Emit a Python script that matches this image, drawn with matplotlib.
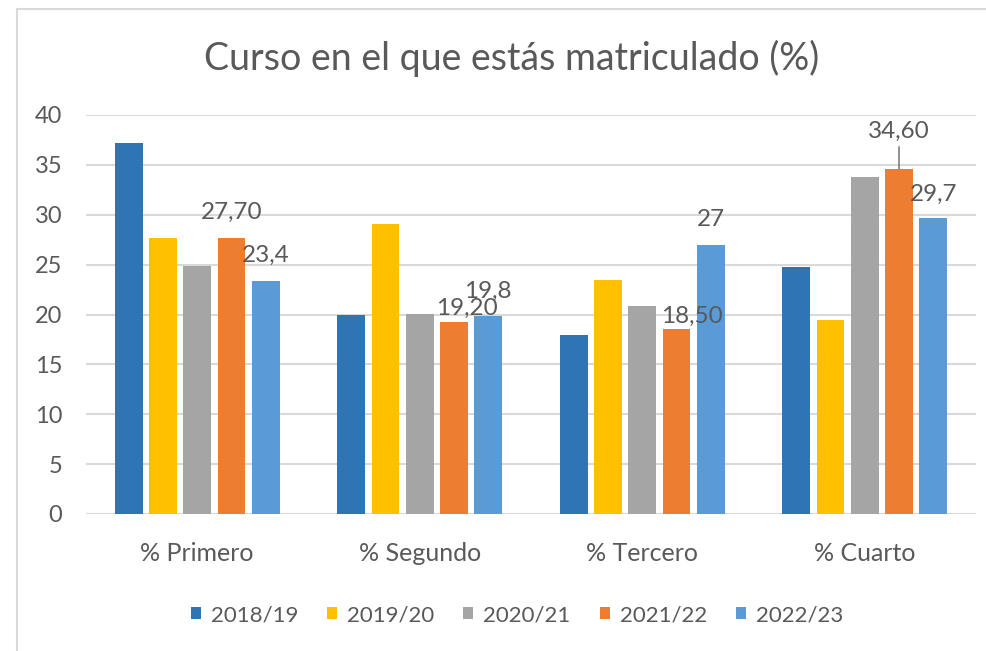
import matplotlib
matplotlib.use("Agg")
import matplotlib.pyplot as plt
from matplotlib.lines import Line2D
from matplotlib.patches import Patch
import numpy as np

plt.rcParams['font.family'] = ['Lato', 'DejaVu Sans']

title = "Curso en el que estás matriculado (%)"
categories = ["% Primero", "% Segundo", "% Tercero", "% Cuarto"]
series_names = ["2018/19", "2019/20", "2020/21", "2021/22", "2022/23"]
s2018 = [37.2, 19.9, 17.9, 24.8]
s2019 = [27.7, 29.1, 23.5, 19.4]
s2020 = [24.9, 20.1, 20.9, 33.8]
s2021 = [27.7, 19.2, 18.5, 34.6]
s2022 = [23.4, 19.8, 27.0, 29.7]
series = [s2018, s2019, s2020, s2021, s2022]
colors = ["#2E75B6", "#FFC000", "#A5A5A5", "#ED7D31", "#5B9BD5"]
yticks = [0, 5, 10, 15, 20, 25, 30, 35, 40]

labels_2021 = ["27,70", "19,20", "18,50", "34,60"]
labels_2022 = ["23,4", "19,8", "27", "29,7"]

TXT = "#595959"
GRID = "#D9D9D9"

fig = plt.figure(figsize=(9.87, 6.51), dpi=100)
ax = fig.add_axes([86/987, 1-514/651, 890/987, 399/651])

x = np.arange(len(categories))
pitch = 0.154
width = 0.124
for i, (vals, c) in enumerate(zip(series, colors)):
    ax.bar(x + (i - 2) * pitch, vals, width=width, color=c, zorder=3)

ax.set_xlim(-0.5, len(categories) - 0.5)
ax.set_ylim(0, 40)
ax.set_yticks(yticks)
ax.set_xticks(x)
ax.set_xticklabels(categories)
ax.yaxis.grid(True, color=GRID, linewidth=1.5, zorder=0)
ax.set_axisbelow(True)
for s in ax.spines.values():
    s.set_visible(False)
ax.tick_params(axis='both', length=0, labelcolor=TXT)
ax.tick_params(axis='y', pad=17, labelsize=17)
ax.tick_params(axis='x', pad=20, labelsize=18)

offs_2021 = [(0, 19), (13, 7.5), (15, 6.5), (0, 31.5)]
offs_2022 = [(0, 18.5), (0, 18.5), (0, 18.5), (0, 17)]
LFS = 17.5
for k in range(len(categories)):
    xi = x[k] + 1 * pitch
    dx, dy = offs_2021[k]
    kw = dict(textcoords='offset pixels', ha='center', va='baseline',
              fontsize=LFS, color=TXT, zorder=5)
    if k == 3:
        kw['arrowprops'] = dict(arrowstyle='-', color='#7F7F7F', lw=1.2,
                                shrinkA=2, shrinkB=0)
    ax.annotate(labels_2021[k], xy=(xi, s2021[k]), xytext=(dx, dy), **kw)
    xj = x[k] + 2 * pitch
    dx, dy = offs_2022[k]
    ax.annotate(labels_2022[k], xy=(xj, s2022[k]), xytext=(dx, dy),
                textcoords='offset pixels', ha='center', va='baseline',
                fontsize=LFS, color=TXT, zorder=5)

fig.text(512/987, 1-70/651, title, ha='center', va='baseline', fontsize=27, color=TXT)

handles = [Patch(facecolor=c, edgecolor='none') for c in colors]
fig.legend(handles, series_names, loc='center', bbox_to_anchor=(517/987, 1-615/651),
           ncol=5, frameon=False, fontsize=16, labelcolor=TXT,
           handlelength=0.45, handleheight=0.45, handletextpad=0.45,
           columnspacing=1.3)

fig.add_artist(Line2D([17/987, 17/987], [0, 1-9/651], color=GRID, lw=1.5,
                      transform=fig.transFigure))
fig.add_artist(Line2D([17/987, 1], [1-9/651, 1-9/651], color=GRID, lw=1.5,
                      transform=fig.transFigure))

fig.savefig("out.png", dpi=100)
